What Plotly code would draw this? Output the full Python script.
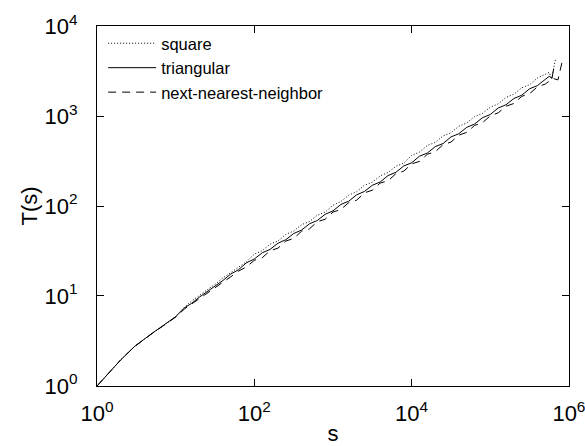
import plotly.graph_objects as go

s_common = [1, 2, 3, 4, 5, 6, 8, 10, 13, 16, 20, 25, 32, 40, 50, 63, 79, 100,
            126, 158, 200, 251, 316, 398, 501, 631, 794, 1000,
            1259, 1585, 1995, 2512, 3162, 3981, 5012, 6310, 7943, 10000,
            12589, 15849, 19953, 25119, 31623, 39811, 50119, 63096, 79433, 100000,
            125893, 158489, 199526, 251189, 316228, 398107, 501187]

square_s = s_common + [562341, 602560, 676083]
square_T = [1, 1.95, 2.75, 3.36, 3.84, 4.29, 5.09, 5.95, 7.55, 8.80, 10.1, 11.8, 13.6,
            15.9, 18.2, 21.2, 23.9, 29.2, 31.8, 37.6, 40.9, 48.4, 52.6, 62.0, 67.0,
            79.0, 85.5, 102, 112, 132, 144, 170, 184, 216, 236, 276, 300, 364, 398,
            472, 508, 602, 650, 770, 838, 985, 1070, 1255, 1365, 1610, 1750, 2060,
            2230, 2650, 2880,
            3060, 2580, 4380]

tri_s = s_common + [562341, 610000, 640000]
tri_T = [1, 1.95, 2.75, 3.36, 3.84, 4.29, 5.09, 5.89, 7.40, 8.30, 9.70, 11.1, 13.1,
         14.9, 17.5, 19.6, 23.3, 25.8, 30.2, 32.9, 38.6, 42.2, 49.4, 54.0, 63.3,
         69.0, 80.8, 88.4, 104, 113, 133, 145, 170, 185, 218, 237, 279, 302, 358,
         388, 457, 495, 586, 636, 748, 815, 958, 1040, 1228, 1335, 1565, 1705,
         2010, 2180, 2560,
         2760, 2640, 3350]

nnn_s = s_common + [630957, 724436, 812831, 966051]
nnn_T = [1, 1.95, 2.74, 3.34, 3.82, 4.26, 5.05, 5.82, 7.20, 8.15, 9.40, 10.8, 12.3,
         14.1, 16.3, 18.9, 21.0, 24.9, 26.6, 31.8, 34.0, 40.8, 43.5, 52.4, 55.6,
         66.8, 71.2, 85.6, 91.4, 109, 116, 140, 150, 180, 190, 229, 244, 294, 313,
         376, 401, 481, 513, 613, 658, 786, 843, 1005, 1085, 1285, 1380, 1655,
         1775, 2110, 2270,
         2620, 2520, 3880, 4080]

names = ["square", "triangular", "next-nearest-neighbor"]

x_tickvals = [1, 100, 10000, 1000000]
x_ticktext = ["10<sup>0</sup>", "10<sup>2</sup>", "10<sup>4</sup>", "10<sup>6</sup>"]
y_tickvals = [1, 10, 100, 1000, 10000]
y_ticktext = ["10<sup>0</sup>", "10<sup>1</sup>", "10<sup>2</sup>", "10<sup>3</sup>", "10<sup>4</sup>"]

FONT = "Liberation Sans, Arial, sans-serif"

fig = go.Figure()
fig.add_trace(go.Scatter(x=square_s, y=square_T, mode="lines", name=names[0],
                         line=dict(color="black", width=1, dash="1px,2px")))
fig.add_trace(go.Scatter(x=tri_s, y=tri_T, mode="lines", name=names[1],
                         line=dict(color="black", width=1)))
fig.add_trace(go.Scatter(x=nnn_s, y=nnn_T, mode="lines", name=names[2],
                         line=dict(color="black", width=1, dash="8px,6px")))

axis_common = dict(
    type="log", showline=True, linecolor="black", linewidth=1, mirror="ticks",
    ticks="inside", ticklen=7, tickcolor="black", showgrid=False, zeroline=False,
    ticklabeloverflow="allow",
    tickfont=dict(family=FONT, size=22, color="black"),
)

fig.update_layout(
    width=585, height=446,
    margin=dict(l=97, r=16, t=26, b=60, autoexpand=False),
    paper_bgcolor="white", plot_bgcolor="white",
    font=dict(family=FONT, color="black"),
    showlegend=True,
    legend=dict(x=0.013, y=1.0, xanchor="left", yanchor="top",
                bgcolor="rgba(0,0,0,0)", borderwidth=0, itemwidth=48,
                font=dict(family=FONT, size=16.5, color="black"),
                tracegroupgap=0),
    xaxis=dict(axis_common, range=[-0.001, 6.001], tickvals=x_tickvals, ticktext=x_ticktext,
               ticklabelstandoff=8,
               title=dict(text="s", font=dict(family=FONT, size=22), standoff=14)),
    yaxis=dict(axis_common, range=[-0.001, 4.001], tickvals=y_tickvals, ticktext=y_ticktext,
               ticklabelstandoff=14,
               title=dict(text="T(s)", font=dict(family=FONT, size=22), standoff=0)),
)

fig.write_html("out.html",
               config={"displayModeBar": False},
               post_script="document.body.style.margin='0px';document.body.style.overflow='hidden';")
